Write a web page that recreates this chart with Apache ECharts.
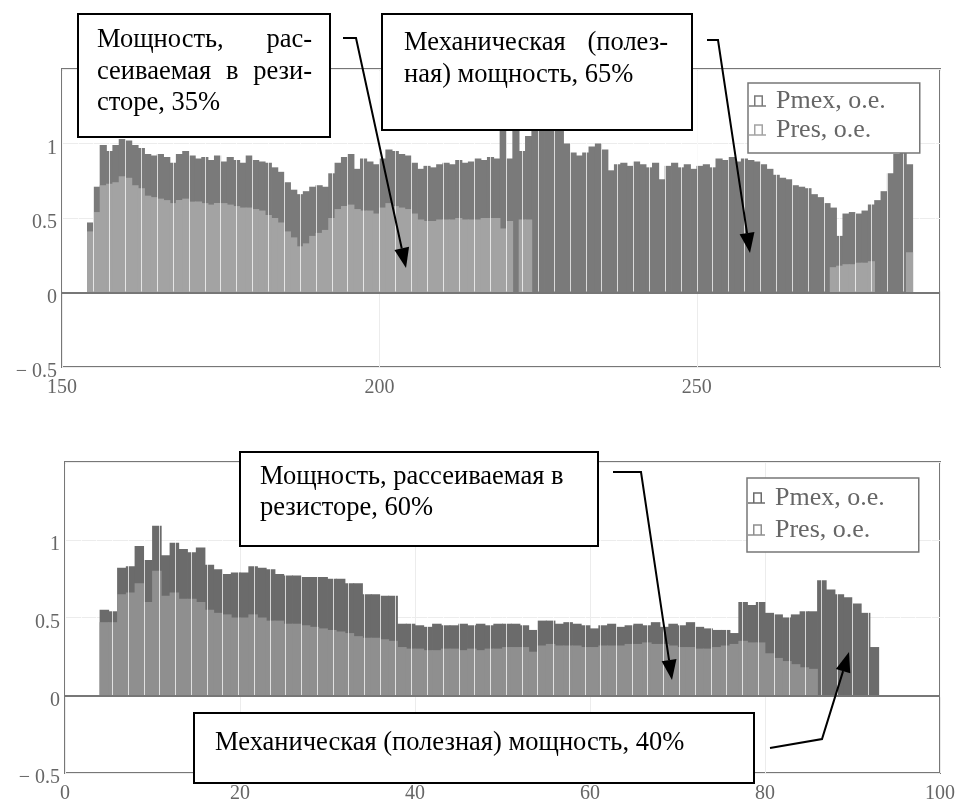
<!DOCTYPE html>
<html>
<head>
<meta charset="utf-8">
<script src="https://cdn.jsdelivr.net/npm/echarts@6/dist/echarts.min.js"></script>
<style>
  html, body { margin: 0; padding: 0; background: #fff; }
  #chart { width: 959px; height: 804px; }
</style>
</head>
<body>
<div id="chart"></div>
<script>
// Upper record: time axis 150 … 288, one bar per unit starting at topStart
const topStart = 154;
const topPmex = [
  0.47,0.71,0.99,0.95,0.99,1.03,1.02,0.99,0.97,0.93,
  0.92,0.93,0.91,0.87,0.93,0.95,0.92,0.90,0.91,0.89,
  0.92,0.88,0.91,0.89,0.87,0.92,0.89,0.88,0.87,0.84,
  0.81,0.74,0.69,0.66,0.68,0.71,0.72,0.71,0.80,0.87,
  0.91,0.93,0.83,0.90,0.88,0.86,0.90,0.96,0.95,0.93,
  0.92,0.87,0.83,0.85,0.84,0.86,0.87,0.86,0.89,0.87,
  0.88,0.90,0.89,0.91,0.90,1.20,0.90,1.15,0.95,1.05,
  1.20,1.25,1.20,1.15,1.10,1.00,0.94,0.92,0.94,0.98,
  1.00,0.96,0.82,0.86,0.87,0.85,0.88,0.86,0.84,0.87,
  0.76,0.85,0.87,0.84,0.86,0.83,0.85,0.86,0.84,0.90,
  0.89,0.91,0.88,0.90,0.89,0.88,0.86,0.83,0.79,0.77,
  0.76,0.72,0.71,0.70,0.66,0.64,0.60,0.57,0.38,0.53,
  0.54,0.53,0.55,0.59,0.62,0.68,0.80,0.93,0.97,0.86
];
const topPres = [
  0.41,0.54,0.72,0.73,0.74,0.78,0.77,0.72,0.70,0.65,
  0.64,0.63,0.62,0.60,0.62,0.63,0.61,0.61,0.60,0.59,
  0.60,0.60,0.59,0.58,0.57,0.57,0.56,0.55,0.52,0.50,
  0.47,0.41,0.37,0.31,0.33,0.38,0.40,0.42,0.50,0.56,
  0.58,0.59,0.56,0.55,0.55,0.53,0.57,0.60,0.58,0.57,
  0.56,0.53,0.49,0.48,0.48,0.49,0.49,0.49,0.50,0.49,
  0.49,0.49,0.50,0.50,0.50,0.43,0.48,0,0.49,0.49,
  0,0,0,0,0,0,0,0,0,0,
  0,0,0,0,0,0,0,0,0,0,
  0,0,0,0,0,0,0,0,0,0,
  0,0,0,0,0,0,0,0,0,0,
  0,0,0,0,0,0,0,0.17,0.18,0.19,
  0.19,0.20,0.20,0.21,0,0,0,0,0,0.27
];

// Lower record: time axis 0 … 100
const botStart = 4;
const botPmex = [
  0.55,0.54,0.82,0.83,0.96,0.87,1.09,0.90,0.98,0.94,
  0.92,0.95,0.84,0.81,0.78,0.79,0.79,0.83,0.82,0.81,
  0.78,0.77,0.77,0.76,0.76,0.76,0.75,0.75,0.72,0.72,
  0.65,0.65,0.64,0.64,0.46,0.46,0.45,0.44,0.46,0.45,
  0.45,0.46,0.45,0.46,0.45,0.46,0.46,0.46,0.45,0.42,
  0.48,0.48,0.46,0.47,0.46,0.45,0.43,0.45,0.46,0.44,
  0.45,0.46,0.45,0.47,0.44,0.46,0.45,0.47,0.44,0.43,
  0.42,0.42,0.40,0.60,0.58,0.60,0.53,0.52,0.50,0.52,
  0.54,0.54,0.74,0.68,0.65,0.63,0.59,0.53,0.31
];
const botPres = [
  0.47,0.47,0.65,0.66,0.72,0.60,0.80,0.64,0.66,0.62,
  0.62,0.60,0.55,0.53,0.52,0.50,0.50,0.52,0.50,0.48,
  0.48,0.46,0.46,0.45,0.44,0.43,0.42,0.41,0.40,0.38,
  0.37,0.37,0.36,0.35,0.31,0.30,0.30,0.29,0.29,0.30,
  0.30,0.29,0.30,0.29,0.30,0.30,0.31,0.31,0.31,0.28,
  0.32,0.33,0.32,0.32,0.32,0.31,0.31,0.32,0.32,0.32,
  0.33,0.33,0.34,0.33,0.33,0.32,0.31,0.31,0.30,0.30,
  0.31,0.32,0.33,0.35,0.34,0.34,0.27,0.24,0.22,0.20,
  0.18,0.17,0,0,0,0,0,0,0
];

const seriesNames = ['Pmex, o.e.', 'Pres, o.e.'];
const topXRange = [150, 288.3];
const botXRange = [0, 100];
const yRange = [-0.5, 1.5];

const serif = '"Liberation Serif", "Times New Roman", serif';
const topColors = ['#7a7a7a', '#a3a3a3'];
const botColors = ['#6b6b6b', '#8f8f8f'];

// plot rectangles
const topGrid = { left: 62, top: 69, width: 878, height: 298 };
const botGrid = { left: 65, top: 462, width: 875, height: 315 };

// each bar spans one unit, centred half a unit after its start
const toPairs = (start, arr) => arr.map((v, i) => [start + i + 0.5, v]);
const unitPx = (g, r) => g.width / (r[1] - r[0]);

// thin "⊓" bar glyph; the trailing zero-length segment widens the icon box for spacing
const legendIcon = 'path://M0,10L17,10L17,11.5L0,11.5Z M5,0L14,0L14,1.5L5,1.5Z M5,0L6.5,0L6.5,10L5,10Z M12.5,0L14,0L14,10L12.5,10Z M22,11.5L22,11.5';

function xAxisOf(gridIndex, range, step) {
  return {
    type: 'value', gridIndex, min: range[0], max: range[1], interval: step,
    axisLine: { show: false }, axisTick: { show: false },
    splitLine: { show: true, lineStyle: { color: '#ececec', width: 1 } },
    axisLabel: { color: '#666', fontFamily: serif, fontSize: 20, margin: 11, showMaxLabel: range[1] % step === 0 }
  };
}
function yAxisOf(gridIndex) {
  return {
    type: 'value', gridIndex, min: yRange[0], max: yRange[1], interval: 0.5,
    axisLine: { show: false }, axisTick: { show: false },
    splitLine: { show: true, lineStyle: { color: '#ececec', width: 1 } },
    axisLabel: {
      color: '#666', fontFamily: serif, fontSize: 20, margin: 5,
      verticalAlign: 'top', lineHeight: 10,
      formatter: v => v >= 1.5 ? '' : (v < 0 ? '\u2212 ' + Math.abs(v) : String(v))
    }
  };
}
// faint white seams between bar columns, kept inside the positive part of the plot
function seamGrid(g) {
  const zeroY = g.top + g.height * (yRange[1] / (yRange[1] - yRange[0]));
  return { left: g.left, top: g.top + 2, width: g.width, height: zeroY - g.top - 3, show: false };
}
function seamXAxis(gridIndex, range, step) {
  return {
    type: 'value', gridIndex, min: range[0], max: range[1], interval: step, z: 3,
    axisLine: { show: false }, axisTick: { show: false }, axisLabel: { show: false },
    splitLine: { show: true, lineStyle: { color: 'rgba(255,255,255,0.72)', width: 1 } }
  };
}
function hiddenYAxis(gridIndex) {
  return { type: 'value', gridIndex, min: 0, max: 1, show: false, splitLine: { show: false } };
}
function legendOf(left, top, colors, padding, gap) {
  return {
    orient: 'vertical', left, top, padding, itemGap: gap,
    itemWidth: 22, itemHeight: 11.5, icon: legendIcon,
    backgroundColor: '#fff', borderColor: '#777', borderWidth: 1.5,
    textStyle: { color: '#666', fontFamily: serif, fontSize: 26 },
    selectedMode: false, z: 4,
    data: seriesNames.map((n, i) => ({ name: n, itemStyle: { color: colors[i] } }))
  };
}
function barSeries(name, axis, data, color, width, withZero) {
  const s = {
    type: 'bar', name, xAxisIndex: axis, yAxisIndex: axis, data,
    itemStyle: { color }, barGap: '-100%', barWidth: width,
    animation: false, silent: true, z: 2
  };
  if (withZero) {
    s.markLine = {
      silent: true, symbol: 'none', label: { show: false },
      lineStyle: { color: '#777', width: 2, type: 'solid' },
      data: [{ yAxis: 0 }]
    };
  }
  return s;
}

// annotation boxes with arrow pointers
function arrow(points, z) {
  const n = points.length;
  const tip = points[n - 1], prev = points[n - 2];
  const dx = tip[0] - prev[0], dy = tip[1] - prev[1];
  const len = Math.hypot(dx, dy);
  const ux = dx / len, uy = dy / len;
  const L = 20, w = 7.5;
  const bx = tip[0] - ux * L, by = tip[1] - uy * L;
  const line = points.slice(0, n - 1).concat([[bx, by]]);
  return [
    { type: 'polyline', z, shape: { points: line }, style: { stroke: '#000', lineWidth: 2, fill: null } },
    { type: 'polygon', z, shape: { points: [tip, [bx - uy * w, by + ux * w], [bx + uy * w, by - ux * w]] }, style: { fill: '#000' } }
  ];
}
const boxFont = '26.5px ' + serif;
const measureCtx = document.createElement('canvas').getContext('2d');
measureCtx.font = boxFont;
function rect(x, y, w, h, z) {
  return { type: 'rect', z, shape: { x, y, width: w, height: h }, style: { fill: '#fff', stroke: '#000', lineWidth: 2 } };
}
function label(text, x, y, z) {
  return { type: 'text', z, x, y, style: { text, fill: '#000', font: boxFont, align: 'left', verticalAlign: 'middle' } };
}
// a justified line: words spread evenly between x0 and x1
function justified(text, x0, x1, y, z) {
  const words = text.split(' ');
  const widths = words.map(w => measureCtx.measureText(w).width);
  const total = widths.reduce((a, b) => a + b, 0);
  const gap = words.length > 1 ? (x1 - x0 - total) / (words.length - 1) : 0;
  let x = x0;
  return words.map((w, i) => {
    const el = label(w, x, y, z);
    x += widths[i] + gap;
    return el;
  });
}

const graphics = [].concat(
  rect(78, 14, 252, 123, 50),
  justified('Мощность, рас-', 97, 312, 40, 51),
  justified('сеиваемая в рези-', 97, 312, 71.7, 51),
  label('сторе, 35%', 97, 103.3, 51),
  rect(382, 14, 310, 116, 50),
  justified('Механическая (полез-', 404, 668, 43.4, 51),
  label('ная) мощность, 65%', 404, 75, 51),
  rect(240, 452, 358, 94, 50),
  label('Мощность, рассеиваемая в', 260, 477, 51),
  label('резисторе, 60%', 260, 508.3, 51),
  rect(194, 713, 560, 70, 50),
  label('Механическая (полезная) мощность, 40%', 215, 743.3, 51),
  arrow([[343, 38], [356, 38], [406, 268]], 60),
  arrow([[707, 40], [718, 40], [750, 253]], 60),
  arrow([[613, 472], [641, 472], [672, 680]], 60),
  arrow([[770, 748], [822, 739], [849, 652]], 60)
);

const chart = echarts.init(document.getElementById('chart'), null, { renderer: 'canvas' });
chart.setOption({
  animation: false,
  backgroundColor: '#fff',
  grid: [
    Object.assign({ show: true, borderColor: '#777', borderWidth: 2, backgroundColor: 'transparent' }, topGrid),
    Object.assign({ show: true, borderColor: '#777', borderWidth: 2, backgroundColor: 'transparent' }, botGrid),
    seamGrid(topGrid),
    seamGrid(botGrid)
  ],
  xAxis: [
    xAxisOf(0, topXRange, 50), xAxisOf(1, botXRange, 20),
    seamXAxis(2, topXRange, 2.5), seamXAxis(3, botXRange, 1.8)
  ],
  yAxis: [yAxisOf(0), yAxisOf(1), hiddenYAxis(2), hiddenYAxis(3)],
  legend: [
    legendOf(748, 83, topColors, [5, 34, 10, 1], 3),
    legendOf(747, 478, botColors, [7, 34, 9, 1], 6)
  ],
  series: [
    barSeries(seriesNames[0], 0, toPairs(topStart, topPmex), topColors[0], unitPx(topGrid, topXRange) + 0.8, false),
    barSeries(seriesNames[1], 0, toPairs(topStart, topPres), topColors[1], unitPx(topGrid, topXRange) + 0.8, true),
    barSeries(seriesNames[0], 1, toPairs(botStart, botPmex), botColors[0], unitPx(botGrid, botXRange) + 0.8, false),
    barSeries(seriesNames[1], 1, toPairs(botStart, botPres), botColors[1], unitPx(botGrid, botXRange) + 0.8, true)
  ],
  graphic: graphics
});
</script>
</body>
</html>
